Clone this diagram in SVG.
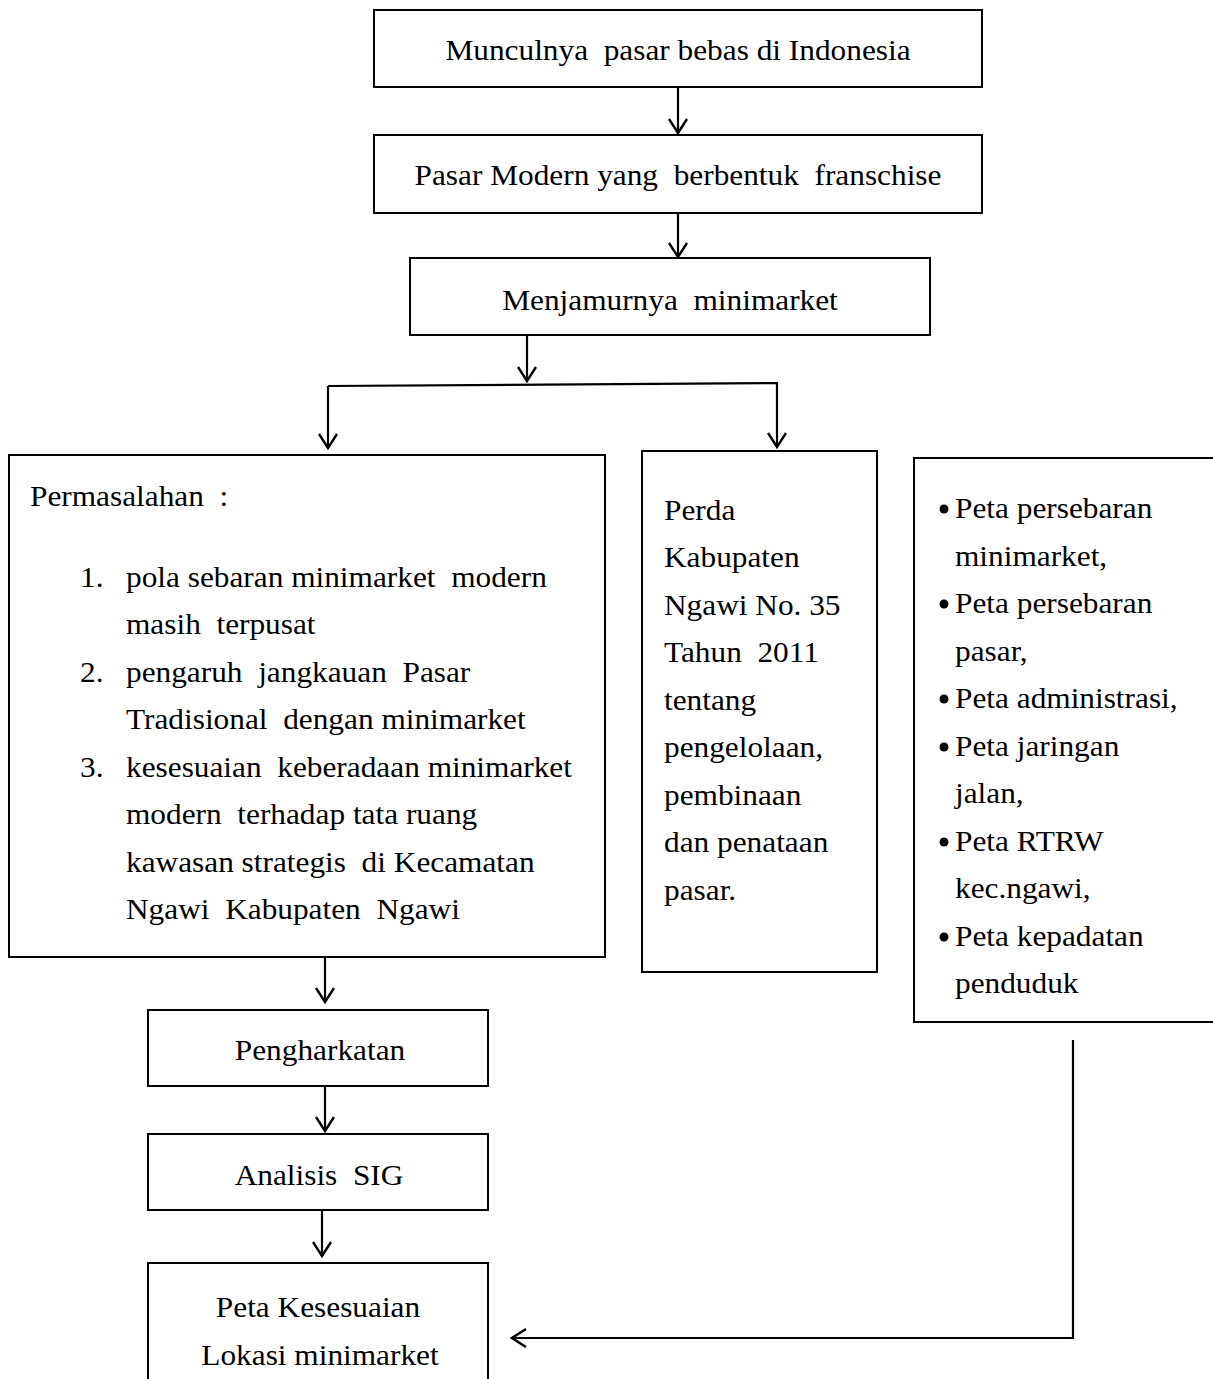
<svg xmlns="http://www.w3.org/2000/svg" width="1213" height="1379" viewBox="0 0 1213 1379" xml:space="preserve">
<defs>
<style>
.box{fill:#fff;stroke:#000;stroke-width:2}
.t{font-family:"Liberation Serif","Times New Roman",serif;font-size:29px;fill:#000;white-space:pre}
.c{text-anchor:middle}
.ln{fill:none;stroke:#000;stroke-width:2.2}
</style>
<marker id="ah" viewBox="0 0 20 20" refX="18" refY="10" markerWidth="20" markerHeight="20" markerUnits="userSpaceOnUse" orient="auto">
<path d="M4,1 L18,10 L4,19" fill="none" stroke="#000" stroke-width="2.4"/>
</marker>
</defs>
<rect width="1213" height="1379" fill="#fff"/>
<g id="connectors">
<line class="ln" x1="678" y1="87" x2="678" y2="133" marker-end="url(#ah)"/>
<line class="ln" x1="678" y1="213" x2="678" y2="257" marker-end="url(#ah)"/>
<line class="ln" x1="527" y1="335" x2="527" y2="381" marker-end="url(#ah)"/>
<polyline class="ln" points="328,386 777,383 777,447" marker-end="url(#ah)"/>
<line class="ln" x1="328" y1="386" x2="328" y2="448" marker-end="url(#ah)"/>
<line class="ln" x1="325" y1="957" x2="325" y2="1002" marker-end="url(#ah)"/>
<line class="ln" x1="325" y1="1086" x2="325" y2="1131" marker-end="url(#ah)"/>
<line class="ln" x1="322" y1="1210" x2="322" y2="1256" marker-end="url(#ah)"/>
<polyline class="ln" points="1073,1040 1073,1338 512,1338" marker-end="url(#ah)"/>
</g>
<g id="n1"><rect class="box" x="374" y="10" width="608" height="77"/><text class="t c" transform="translate(678,60) scale(1.08,1)">Munculnya  pasar bebas di Indonesia</text></g>
<g id="n2"><rect class="box" x="374" y="135" width="608" height="78"/><text class="t c" transform="translate(678,185) scale(1.08,1)">Pasar Modern yang  berbentuk  franschise</text></g>
<g id="n3"><rect class="box" x="410" y="258" width="520" height="77"/><text class="t c" transform="translate(670,310) scale(1.08,1)">Menjamurnya  minimarket</text></g>
<g id="n4"><rect class="box" x="9" y="455" width="596" height="502"/>
<text class="t" transform="translate(30,506) scale(1.08,1)">Permasalahan  :</text>
<text class="t" transform="translate(80,587) scale(1.08,1)">1.</text><text class="t" transform="translate(126,587) scale(1.08,1)">pola sebaran minimarket  modern</text>
<text class="t" transform="translate(126,634) scale(1.08,1)">masih  terpusat</text>
<text class="t" transform="translate(80,682) scale(1.08,1)">2.</text><text class="t" transform="translate(126,682) scale(1.08,1)">pengaruh  jangkauan  Pasar</text>
<text class="t" transform="translate(126,729) scale(1.08,1)">Tradisional  dengan minimarket</text>
<text class="t" transform="translate(80,777) scale(1.08,1)">3.</text><text class="t" transform="translate(126,777) scale(1.08,1)">kesesuaian  keberadaan minimarket</text>
<text class="t" transform="translate(126,824) scale(1.08,1)">modern  terhadap tata ruang</text>
<text class="t" transform="translate(126,872) scale(1.08,1)">kawasan strategis  di Kecamatan</text>
<text class="t" transform="translate(126,919) scale(1.08,1)">Ngawi  Kabupaten  Ngawi</text>
</g>
<g id="n5"><rect class="box" x="642" y="451" width="235" height="521"/>
<text class="t" transform="translate(664,520) scale(1.08,1)">Perda</text>
<text class="t" transform="translate(664,567) scale(1.08,1)">Kabupaten</text>
<text class="t" transform="translate(664,615) scale(1.08,1)">Ngawi No. 35</text>
<text class="t" transform="translate(664,662) scale(1.08,1)">Tahun  2011</text>
<text class="t" transform="translate(664,710) scale(1.08,1)">tentang</text>
<text class="t" transform="translate(664,757) scale(1.08,1)">pengelolaan,</text>
<text class="t" transform="translate(664,805) scale(1.08,1)">pembinaan</text>
<text class="t" transform="translate(664,852) scale(1.08,1)">dan penataan</text>
<text class="t" transform="translate(664,900) scale(1.08,1)">pasar.</text>
</g>
<g id="n6"><rect class="box" x="914" y="458" width="310" height="564"/>
<circle cx="944" cy="509" r="4.5"/><text class="t" transform="translate(955,518) scale(1.08,1)">Peta persebaran</text>
<text class="t" transform="translate(955,566) scale(1.08,1)">minimarket,</text>
<circle cx="944" cy="604" r="4.5"/><text class="t" transform="translate(955,613) scale(1.08,1)">Peta persebaran</text>
<text class="t" transform="translate(955,661) scale(1.08,1)">pasar,</text>
<circle cx="944" cy="699" r="4.5"/><text class="t" transform="translate(955,708) scale(1.08,1)">Peta administrasi,</text>
<circle cx="944" cy="747" r="4.5"/><text class="t" transform="translate(955,756) scale(1.08,1)">Peta jaringan</text>
<text class="t" transform="translate(955,803) scale(1.08,1)">jalan,</text>
<circle cx="944" cy="842" r="4.5"/><text class="t" transform="translate(955,851) scale(1.08,1)">Peta RTRW</text>
<text class="t" transform="translate(955,898) scale(1.08,1)">kec.ngawi,</text>
<circle cx="944" cy="937" r="4.5"/><text class="t" transform="translate(955,946) scale(1.08,1)">Peta kepadatan</text>
<text class="t" transform="translate(955,993) scale(1.08,1)">penduduk</text>
</g>
<g id="n7"><rect class="box" x="148" y="1010" width="340" height="76"/><text class="t c" transform="translate(320,1060) scale(1.08,1)">Pengharkatan</text></g>
<g id="n8"><rect class="box" x="148" y="1134" width="340" height="76"/><text class="t c" transform="translate(319,1185) scale(1.08,1)">Analisis  SIG</text></g>
<g id="n9"><rect class="box" x="148" y="1263" width="340" height="130"/><text class="t c" transform="translate(318,1317) scale(1.08,1)">Peta Kesesuaian</text><text class="t c" transform="translate(320,1365) scale(1.08,1)">Lokasi minimarket</text></g>
</svg>
